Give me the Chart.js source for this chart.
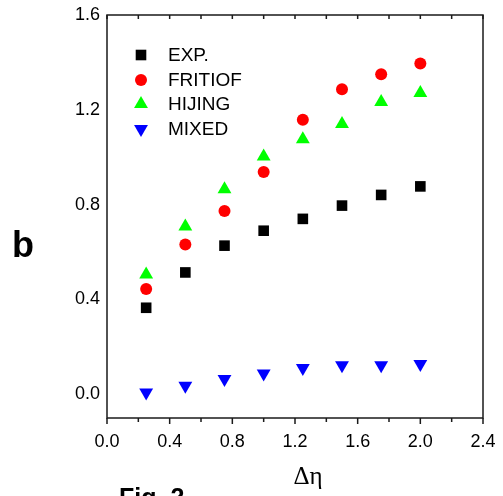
<!DOCTYPE html>
<html>
<head>
<meta charset="utf-8">
<script src="https://cdn.jsdelivr.net/npm/chart.js@4.4.0/dist/chart.umd.min.js"></script>
<style>
    html, body { margin: 0; padding: 0; background: #fff; overflow: hidden; }
    #wrap { position: relative; width: 503px; height: 496px; }
</style>
</head>
<body>
<div id="wrap"><canvas id="bChart"></canvas></div>
<script>
// pseudorapidity window widths
var etaBins = [0.25, 0.5, 0.75, 1.0, 1.25, 1.5, 1.75, 2.0];

// b values
var expValues     = [0.365, 0.514, 0.627, 0.690, 0.740, 0.796, 0.841, 0.877];
var fritiofValues = [0.444, 0.632, 0.773, 0.938, 1.158, 1.287, 1.350, 1.395];
var hijingValues  = [0.505, 0.708, 0.865, 1.003, 1.076, 1.140, 1.233, 1.271];
var mixedValues   = [0.008, 0.036, 0.064, 0.088, 0.111, 0.123, 0.123, 0.128];

var seriesNames = ['EXP.', 'FRITIOF', 'HIJING', 'MIXED'];

var xTicks = [0, 0.4, 0.8, 1.2, 1.6, 2.0, 2.4];
var xMinorTicks = [0.2, 0.6, 1.0, 1.4, 1.8, 2.2];
var yTicks = [0, 0.4, 0.8, 1.2, 1.6];

function toPoints(vals) {
    return etaBins.map(function(x, i) { return { x: x, y: vals[i] }; });
}

var axisColor = '#1a1a1a';

// draws the marker shapes used by the datasets (for the legend)
function drawMarker(ctx, ds, x, y) {
    var r = ds.pointRadius;
    ctx.save();
    ctx.fillStyle = ds.backgroundColor;
    ctx.beginPath();
    if (ds.pointStyle === 'rect') {
        var s = Math.SQRT1_2 * r;
        ctx.rect(x - s, y - s, 2 * s, 2 * s);
    } else if (ds.pointStyle === 'circle') {
        ctx.arc(x, y, r, 0, Math.PI * 2);
    } else {
        var flip = ds.pointRotation === 180 ? -1 : 1;
        var h = Math.sqrt(3) / 2 * r;
        ctx.moveTo(x, y - flip * r);
        ctx.lineTo(x + h, y + flip * r / 2);
        ctx.lineTo(x - h, y + flip * r / 2);
        ctx.closePath();
    }
    ctx.fill();
    ctx.restore();
}

var framePlugin = {
    id: 'frame',
    afterDraw: function(chart) {
        var ctx = chart.ctx;
        var a = chart.chartArea;
        var xs = chart.scales.x;

        ctx.save();
        ctx.strokeStyle = axisColor;
        ctx.lineWidth = 1.5;
        ctx.strokeRect(a.left, a.top, a.right - a.left, a.bottom - a.top);

        // bottom ticks outward, top ticks inward
        ctx.beginPath();
        xTicks.forEach(function(v) {
            var px = xs.getPixelForValue(v);
            ctx.moveTo(px, a.bottom); ctx.lineTo(px, a.bottom + 6);
            ctx.moveTo(px, a.top); ctx.lineTo(px, a.top + 4);
        });
        xMinorTicks.forEach(function(v) {
            var px = xs.getPixelForValue(v);
            ctx.moveTo(px, a.bottom); ctx.lineTo(px, a.bottom + 4);
            ctx.moveTo(px, a.top); ctx.lineTo(px, a.top + 4);
        });
        ctx.stroke();

        // legend inside the plot
        var rowY = [55, 80, 104, 129];
        ctx.fillStyle = '#000';
        ctx.font = '19px "Liberation Sans", Arial, sans-serif';
        ctx.textBaseline = 'middle';
        ctx.textAlign = 'left';
        chart.data.datasets.forEach(function(ds, i) {
            drawMarker(ctx, ds, 141, rowY[i]);
            ctx.fillText(seriesNames[i], 168, rowY[i] + 1);
        });

        // y label, x label and the cut-off figure caption
        ctx.font = 'bold 36px "Liberation Sans", Arial, sans-serif';
        ctx.textBaseline = 'alphabetic';
        ctx.fillText('b', 12, 257);

        ctx.font = '25px "Liberation Serif", "Times New Roman", serif';
        ctx.textAlign = 'center';
        ctx.fillText('\u0394\u03b7', 308, 484);

        ctx.font = 'bold 25px "Liberation Sans", Arial, sans-serif';
        ctx.textAlign = 'left';
        ctx.textBaseline = 'top';
        ctx.fillText('Fig. 2', 119, 487);
        ctx.restore();
    }
};

new Chart(document.getElementById('bChart'), {
    type: 'scatter',
    data: {
        datasets: [
            { label: seriesNames[0], data: toPoints(expValues), pointStyle: 'rect', pointRadius: 7.5,
              backgroundColor: '#000000', borderWidth: 0 },
            { label: seriesNames[1], data: toPoints(fritiofValues), pointStyle: 'circle', pointRadius: 6,
              backgroundColor: '#ff0000', borderWidth: 0 },
            { label: seriesNames[2], data: toPoints(hijingValues), pointStyle: 'triangle', pointRadius: 8,
              backgroundColor: '#00ff00', borderWidth: 0 },
            { label: seriesNames[3], data: toPoints(mixedValues), pointStyle: 'triangle', pointRadius: 8,
              pointRotation: 180, backgroundColor: '#0000ff', borderWidth: 0 }
        ]
    },
    options: {
        responsive: true,
        maintainAspectRatio: false,
        animation: false,
        clip: false,
        layout: { padding: { top: 15, right: 20, left: 0, bottom: 0 } },
        plugins: {
            legend: { display: false },
            tooltip: { enabled: false }
        },
        scales: {
            x: {
                type: 'linear',
                min: 0,
                max: 2.4,
                afterBuildTicks: function(scale) {
                    scale.ticks = xTicks.map(function(v) { return { value: v }; });
                },
                afterFit: function(scale) {
                    scale.height = 78;
                    // labels may overhang; layout padding decides the plot edges
                    scale.paddingLeft = 0;
                    scale.paddingRight = 0;
                },
                grid: { display: false, drawTicks: false },
                border: { display: false },
                ticks: {
                    autoSkip: false,
                    maxRotation: 0,
                    padding: 13,
                    color: '#000',
                    font: { family: '"Liberation Sans", Arial, sans-serif', size: 18 },
                    callback: function(v) { return v.toFixed(1); }
                }
            },
            y: {
                type: 'linear',
                min: -0.1,
                max: 1.6,
                afterBuildTicks: function(scale) {
                    scale.ticks = yTicks.map(function(v) { return { value: v }; });
                },
                afterFit: function(scale) {
                    scale.width = 107;
                    scale.paddingTop = 0;
                    scale.paddingBottom = 0;
                },
                grid: { display: false, drawTicks: false },
                border: { display: false },
                ticks: {
                    padding: 7,
                    color: '#000',
                    font: { family: '"Liberation Sans", Arial, sans-serif', size: 18 },
                    callback: function(v) { return v.toFixed(1); }
                }
            }
        }
    },
    plugins: [framePlugin]
});
</script>
</body>
</html>
